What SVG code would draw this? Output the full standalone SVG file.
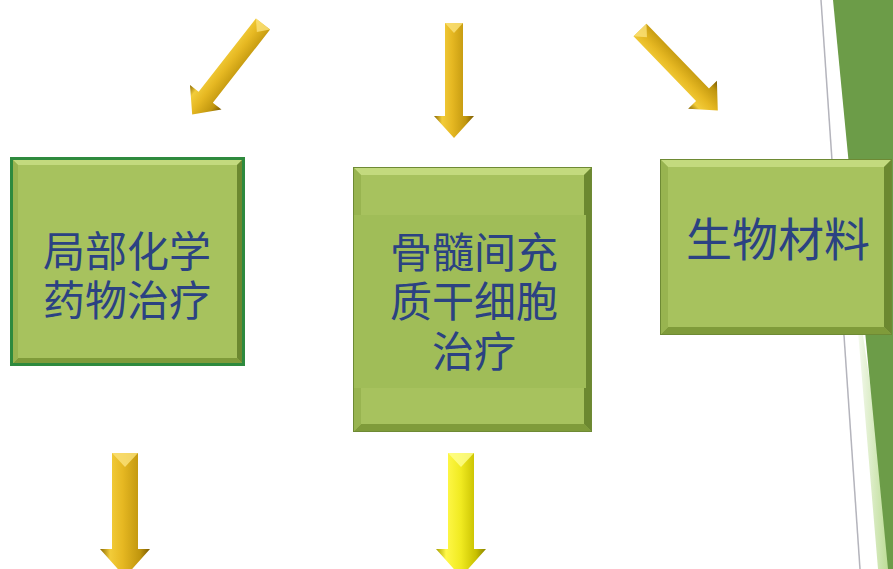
<svg xmlns="http://www.w3.org/2000/svg" width="893" height="569" viewBox="0 0 893 569">
<defs>
<linearGradient id="gold" x1="0" y1="0" x2="1" y2="0">
<stop offset="0" stop-color="#8a6800"/>
<stop offset="0.2" stop-color="#f2cc3a"/>
<stop offset="0.45" stop-color="#e6b822"/>
<stop offset="0.8" stop-color="#c0960e"/>
<stop offset="1" stop-color="#7a5a00"/>
</linearGradient>
<linearGradient id="yellow" x1="0" y1="0" x2="1" y2="0">
<stop offset="0" stop-color="#a8a000"/>
<stop offset="0.2" stop-color="#fff84a"/>
<stop offset="0.5" stop-color="#f0ea20"/>
<stop offset="0.8" stop-color="#c8c000"/>
<stop offset="1" stop-color="#8a8400"/>
</linearGradient>
<linearGradient id="sliver" x1="0" y1="0" x2="1" y2="0">
<stop offset="0" stop-color="#ffffff"/>
<stop offset="1" stop-color="#b4d888"/>
</linearGradient>
<style>
.base{fill:#a7c25e}
.band{fill:#a0bd58}
.bt{fill:#c3da7e}
.bb{fill:#7f9b3a}
.bl{fill:#98b450}
.br{fill:#6c8830}
.lbl{font-family:"Noto Sans CJK SC","Noto Sans",sans-serif;fill:#2b4282;text-anchor:middle}
.facet{fill:#fbe27a;opacity:0.8}
</style>
</defs>
<rect width="893" height="569" fill="#ffffff"/>
<g id="decoration">
<polygon points="852,260 878,569 893,569 893,540" fill="url(#sliver)"/>
<polygon points="833,0 893,0 893,569 888,569" fill="#6c9c48"/>
<line x1="821" y1="0" x2="860" y2="569" stroke="#b4b4bc" stroke-width="1.5"/>
</g>
<g id="connectors">
<g transform="translate(263,24) rotate(38)">
<path d="M-9,0 L9,0 L9,93 L20,93 L0,115 L-20,93 L-9,93 Z" fill="url(#gold)"/>
<path d="M-9,0 L9,0 L0,10 Z" class="facet"/>
</g>
<g transform="translate(454,23)">
<path d="M-9,0 L9,0 L9,93 L20,93 L0,115 L-20,93 L-9,93 Z" fill="url(#gold)"/>
<path d="M-9,0 L9,0 L0,10 Z" class="facet"/>
</g>
<g transform="translate(640,30) rotate(-44)">
<path d="M-9,0 L9,0 L9,90 L20,90 L0,112 L-20,90 L-9,90 Z" fill="url(#gold)"/>
<path d="M-9,0 L9,0 L0,10 Z" class="facet"/>
</g>
<g transform="translate(125,453)">
<path d="M-13,0 L13,0 L13,96 L25,96 L0,124 L-25,96 L-13,96 Z" fill="url(#gold)"/>
<path d="M-13,0 L13,0 L0,14 Z" class="facet"/>
</g>
<g transform="translate(461,453)">
<path d="M-13,0 L13,0 L13,96 L25,96 L0,124 L-25,96 L-13,96 Z" fill="url(#yellow)"/>
<path d="M-13,0 L13,0 L0,14 Z" fill="#ffff90" opacity="0.8"/>
</g>
</g>
<g id="node-local-chemo">
<rect x="10" y="157" width="235" height="209" class="base"/>
<polygon points="10,157 245,157 237,165 18,165" class="bt"/>
<polygon points="10,366 245,366 237,358 18,358" class="bb"/>
<polygon points="10,157 18,165 18,358 10,366" class="bl"/>
<polygon points="245,157 237,165 237,358 245,366" class="br"/>
<rect x="11.5" y="158.5" width="232" height="206" fill="none" stroke="#2e8a3e" stroke-width="3"/>
<text class="lbl" font-size="42"><tspan x="127" y="267">局部化学</tspan><tspan x="127" y="316">药物治疗</tspan></text>
</g>
<g id="node-msc">
<rect x="353" y="167" width="239" height="265" class="base"/>
<polygon points="353,167 592,167 584,175 361,175" class="bt"/>
<polygon points="353,432 592,432 584,424 361,424" class="bb"/>
<polygon points="353,167 361,175 361,424 353,432" class="bl"/>
<polygon points="592,167 584,175 584,424 592,432" class="br"/>
<rect x="353" y="215" width="233" height="173" class="band"/>
<rect x="353.5" y="167.5" width="238" height="264" fill="none" stroke="#6e8a34" stroke-width="1"/>
<text class="lbl" font-size="42"><tspan x="474" y="268">骨髓间充</tspan><tspan x="474" y="317">质干细胞</tspan><tspan x="474" y="367">治疗</tspan></text>
</g>
<g id="node-biomaterial">
<rect x="660" y="159" width="232" height="176" class="base"/>
<polygon points="660,159 892,159 884,167 668,167" class="bt"/>
<polygon points="660,335 892,335 884,327 668,327" class="bb"/>
<polygon points="660,159 668,167 668,327 660,335" class="bl"/>
<polygon points="892,159 884,167 884,327 892,335" class="br"/>
<rect x="660.5" y="159.5" width="231" height="175" fill="none" stroke="#6e8a34" stroke-width="1"/>
<text class="lbl" x="778" y="256" font-size="46">生物材料</text>
</g>
</svg>
